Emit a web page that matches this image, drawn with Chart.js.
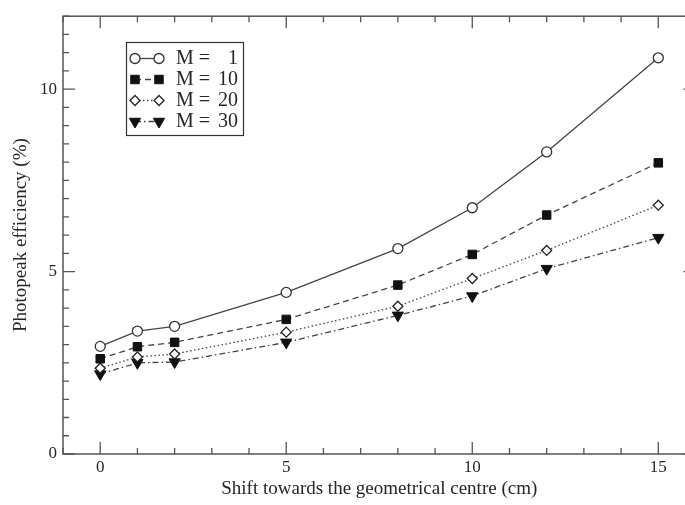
<!DOCTYPE html>
<html>
<head>
<meta charset="utf-8">
<script src="https://cdn.jsdelivr.net/npm/chart.js@4.4.1/dist/chart.umd.min.js"></script>
<style>
    html, body { margin: 0; padding: 0; background: #fff; overflow: hidden; }
    #wrap { width: 720px; height: 505px; }
</style>
</head>
<body>
<div id="wrap"><canvas id="chart" width="720" height="505"></canvas></div>
<script>
// values
const shifts = [0, 1, 2, 5, 8, 10, 12, 15];
const effM1  = [2.95, 3.37, 3.50, 4.43, 5.63, 6.75, 8.28, 10.86];
const effM10 = [2.61, 2.94, 3.06, 3.69, 4.63, 5.47, 6.55, 7.98];
const effM20 = [2.35, 2.66, 2.74, 3.34, 4.05, 4.81, 5.58, 6.82];
const effM30 = [2.19, 2.50, 2.52, 3.06, 3.80, 4.33, 5.08, 5.93];
const seriesLabels = ['1', '10', '20', '30'];
const xTicks = [0, 5, 10, 15];
const yTicks = [0, 5, 10];

const textColor = '#262626';
const axisColor = '#555';

function toPoints(values) {
    return shifts.map((x, i) => ({ x: x, y: values[i] }));
}

// box with inward ticks on all four sides
const framePlugin = {
    id: 'frame',
    beforeDatasetsDraw(chart) {
        const { ctx, chartArea: a, scales: { x, y } } = chart;
        ctx.save();
        ctx.strokeStyle = axisColor;
        ctx.lineWidth = 1.5;
        ctx.strokeRect(a.left, a.top, a.right - a.left, a.bottom - a.top);
        ctx.lineWidth = 1.3;
        ctx.beginPath();
        for (let v = x.min; v <= x.max; v += 1) {
            const px = x.getPixelForValue(v);
            const len = v % 5 === 0 ? 12 : 6;
            ctx.moveTo(px, a.bottom); ctx.lineTo(px, a.bottom - len);
            ctx.moveTo(px, a.top); ctx.lineTo(px, a.top + len);
        }
        for (let v = y.min; v <= y.max; v += 0.5) {
            const py = y.getPixelForValue(v);
            const len = v % 5 === 0 ? 12 : 6;
            ctx.moveTo(a.left, py); ctx.lineTo(a.left + len, py);
            ctx.moveTo(a.right, py); ctx.lineTo(a.right - len, py);
        }
        ctx.stroke();
        ctx.restore();
    }
};

// legend drawn as line - marker - line samples in a box
const legendPlugin = {
    id: 'boxLegend',
    afterDraw(chart) {
        const ctx = chart.ctx;
        ctx.save();
        ctx.strokeStyle = '#333';
        ctx.lineWidth = 1.2;
        ctx.strokeRect(126.5, 42.5, 117, 93);
        chart.data.datasets.forEach((ds, i) => {
            const yy = 58.5 + i * 21;
            ctx.strokeStyle = ds.borderColor;
            ctx.lineWidth = ds.borderWidth;
            ctx.setLineDash(ds.borderDash || []);
            ctx.beginPath();
            ctx.moveTo(135, yy);
            ctx.lineTo(159, yy);
            ctx.stroke();
            ctx.setLineDash([]);
            ctx.fillStyle = ds.pointBackgroundColor;
            ctx.strokeStyle = ds.pointBorderColor;
            ctx.lineWidth = ds.pointBorderWidth;
            const opts = {
                pointStyle: ds.pointStyle,
                radius: ds.pointRadius,
                rotation: ds.pointRotation || 0,
                borderWidth: ds.pointBorderWidth
            };
            Chart.helpers.drawPoint(ctx, opts, 135, yy);
            Chart.helpers.drawPoint(ctx, opts, 159, yy);
            ctx.fillStyle = textColor;
            ctx.font = '20px "Liberation Serif"';
            ctx.textBaseline = 'middle';
            ctx.textAlign = 'left';
            ctx.fillText('M =', 176, yy);
            ctx.textAlign = 'right';
            ctx.fillText(seriesLabels[i], 238, yy);
        });
        ctx.restore();
    }
};

function initializeChart() {
    Chart.defaults.font.family = '"Liberation Serif", "Times New Roman", serif';
    Chart.defaults.color = textColor;

    const ctx = document.getElementById('chart').getContext('2d');
    new Chart(ctx, {
        type: 'line',
        data: {
            datasets: [{
                label: 'M = ' + seriesLabels[0],
                data: toPoints(effM1),
                borderColor: '#444',
                borderWidth: 1.3,
                pointStyle: 'circle',
                pointRadius: 5,
                pointBackgroundColor: '#fff',
                pointBorderColor: '#333',
                pointBorderWidth: 1.3
            }, {
                label: 'M = ' + seriesLabels[1],
                data: toPoints(effM10),
                borderColor: '#444',
                borderWidth: 1.3,
                borderDash: [6, 4],
                pointStyle: 'rect',
                pointRadius: 6,
                pointBackgroundColor: '#111',
                pointBorderColor: '#111',
                pointBorderWidth: 1
            }, {
                label: 'M = ' + seriesLabels[2],
                data: toPoints(effM20),
                borderColor: '#444',
                borderWidth: 1.3,
                borderDash: [1.5, 2.5],
                pointStyle: 'rectRot',
                pointRadius: 5,
                pointBackgroundColor: '#fff',
                pointBorderColor: '#222',
                pointBorderWidth: 1.3
            }, {
                label: 'M = ' + seriesLabels[3],
                data: toPoints(effM30),
                borderColor: '#444',
                borderWidth: 1.3,
                borderDash: [6, 3, 1.5, 3],
                pointStyle: 'triangle',
                pointRotation: 180,
                pointRadius: 6.5,
                pointBackgroundColor: '#111',
                pointBorderColor: '#111',
                pointBorderWidth: 1
            }]
        },
        options: {
            responsive: false,
            animation: false,
            devicePixelRatio: 1,
            layout: { padding: { top: 12, right: 24.5, left: 0, bottom: 0 } },
            plugins: {
                legend: { display: false },
                tooltip: { enabled: false }
            },
            scales: {
                x: {
                    type: 'linear',
                    min: -1,
                    max: 16,
                    afterBuildTicks: s => { s.ticks = xTicks.map(v => ({ value: v })); },
                    afterFit: s => { s.height = 51; },
                    grid: { display: false, drawTicks: false },
                    border: { display: false },
                    ticks: { font: { size: 17 }, padding: 3, maxRotation: 0 },
                    title: {
                        display: true,
                        text: 'Shift towards the geometrical centre (cm)',
                        font: { size: 19 },
                        padding: { top: 0, bottom: 5 }
                    }
                },
                y: {
                    min: 0,
                    max: 12,
                    afterBuildTicks: s => { s.ticks = yTicks.map(v => ({ value: v })); },
                    afterFit: s => { s.width = 63; },
                    grid: { display: false, drawTicks: false },
                    border: { display: false },
                    ticks: { font: { size: 17 }, padding: 6 },
                    title: {
                        display: true,
                        text: 'Photopeak efficiency (%)',
                        font: { size: 19 },
                        padding: { top: 10, bottom: 0 }
                    }
                }
            }
        },
        plugins: [framePlugin, legendPlugin]
    });
}

window.onload = initializeChart;
</script>
</body>
</html>
